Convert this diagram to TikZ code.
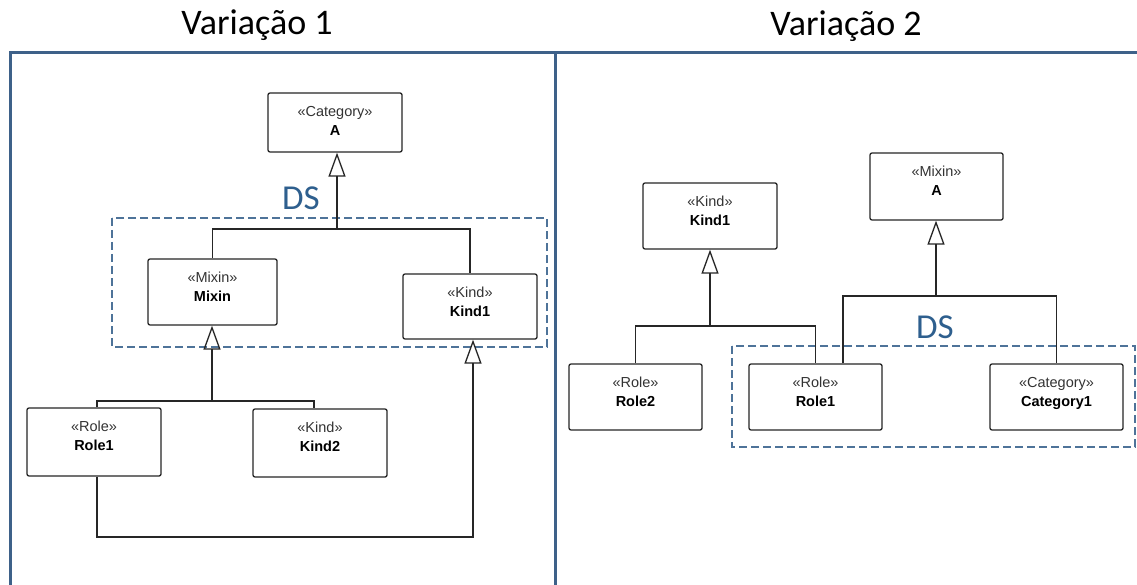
\documentclass[tikz,border=0pt]{standalone}
\usepackage{fontspec}
\setmainfont{Liberation Sans}
\newfontfamily\titlefont{Carlito}
\usetikzlibrary{arrows.meta,calc}
\definecolor{frameblue}{HTML}{3E6189}
\definecolor{dsblue}{HTML}{2E5F8E}
\definecolor{dashblue}{HTML}{4E7399}
\newcommand{\umlclass}[6]{%
  \node[umlbox, minimum width=#3, minimum height=#4] (#1) at (#2) {};
  \node[stereo, anchor=base] (#1-st) at ($(#1.north)+(0,24)$) {#5};
  \node[cname, anchor=base] (#1-nm) at ($(#1.north)+(0,43)$) {#6};}
\begin{document}
\begin{tikzpicture}[x=1pt,y=-1pt,
  umlbox/.style={draw=black!85, line width=1.3pt, rounded corners=2pt, fill=white, inner sep=0pt},
  stereo/.style={font=\fontsize{14.5}{16}\selectfont, text=black!80},
  cname/.style={font=\fontsize{14.5}{16}\selectfont\bfseries},
  gen/.style={draw=black!85, line width=1.3pt, -{Triangle[open,length=24pt,width=17pt,line width=1.3pt]}},
  conn/.style={draw=black!85, line width=1.3pt},
  frameline/.style={draw=frameblue, line width=3pt},
  dsbox/.style={draw=dashblue, line width=1.8pt, dash pattern=on 8pt off 4pt},
  dslabel/.style={font=\titlefont\fontsize{35}{40}\selectfont, text=dsblue, inner sep=0pt},
  titletext/.style={font=\titlefont\fontsize{36}{40}\selectfont, inner sep=0pt}]
\useasboundingbox (0,0) rectangle (1137,585);
\fill[white] (0,0) rectangle (1137,585);

% frames
\draw[frameline] (1137,53) -- (10,53) -- (10,586);
\draw[frameline] (555,53) -- (555,586);

% titles
\node[titletext, anchor=base] (t1) at (257,35) {Variação 1};
\node[titletext, anchor=base] (t2) at (846,36) {Variação 2};

% DS areas
\draw[dsbox] (112,218) rectangle (547,347);
\draw[dsbox] (732,346) rectangle (1135,447);
\node[dslabel, anchor=base] (ds1) at (301,210) {DS};
\node[dslabel, anchor=base] (ds2) at (935,338) {DS};

% ---- Variação 1 ----
\umlclass{catA}{335,122.5}{134pt}{59pt}{«Category»}{A}
\umlclass{mixin}{212.5,292}{129pt}{66pt}{«Mixin»}{Mixin}
\umlclass{kindL}{470,306.5}{134pt}{65pt}{«Kind»}{Kind1}
\umlclass{roleL}{94,442}{134pt}{68pt}{«Role»}{Role1}
\umlclass{kind2}{320,443}{134pt}{68pt}{«Kind»}{Kind2}

\coordinate (jA) at (337,229);
\draw[conn] (mixin.north) |- (jA) -| (kindL.north);
\draw[gen] (jA) -- (jA |- catA.south);

\coordinate (jM) at (212,401);
\draw[conn] ([xshift=3pt]roleL.north) |- (jM) -| ([xshift=-6pt]kind2.north);
\draw[gen] (jM) -- (jM |- mixin.south);

\coordinate (jB) at (473,537);
\draw[gen] ([xshift=3pt]roleL.south) |- (jB) -- (jB |- kindL.south);

% ---- Variação 2 ----
\umlclass{kindR}{710,216}{134pt}{66pt}{«Kind»}{Kind1}
\umlclass{mixA}{936.5,186.5}{133pt}{67pt}{«Mixin»}{A}
\umlclass{role2}{635.5,397}{133pt}{66pt}{«Role»}{Role2}
\umlclass{roleR}{815.5,397}{133pt}{66pt}{«Role»}{Role1}
\umlclass{cat1}{1056.5,397}{133pt}{66pt}{«Category»}{Category1}

\coordinate (jK) at (710,326);
\draw[conn] (role2.north) |- (jK) -| (roleR.north);
\draw[gen] (jK) -- (jK |- kindR.south);

\coordinate (jA2) at (936,296);
\draw[conn] ([xshift=27.5pt]roleR.north) |- (jA2) -| (cat1.north);
\draw[gen] (jA2) -- (jA2 |- mixA.south);
\end{tikzpicture}
\end{document}
